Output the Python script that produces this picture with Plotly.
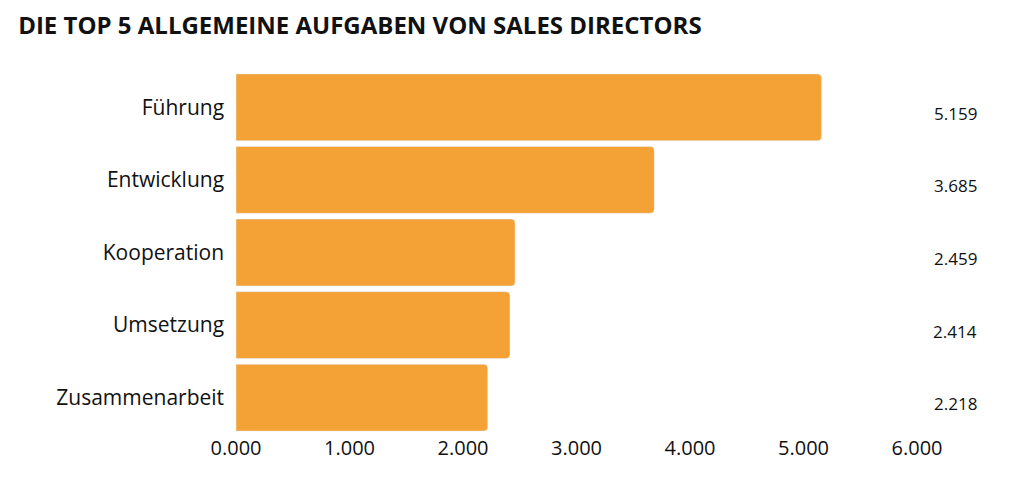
import plotly.graph_objects as go

categories = ["Führung", "Entwicklung", "Kooperation", "Umsetzung", "Zusammenarbeit"]
values = [5.159, 3.685, 2.459, 2.414, 2.218]
value_labels = ["5.159", "3.685", "2.459", "2.414", "2.218"]

fig = go.Figure(go.Bar(
    x=values, y=categories, orientation="h",
    marker=dict(color="#F4A235", cornerradius=4),
    width=0.92, hoverinfo="x+y"))

for c, lab in zip(categories, value_labels):
    fig.add_annotation(x=1.056, xref="paper", y=c, yref="y", text=lab,
                       showarrow=False, xanchor="center", yshift=-6,
                       font=dict(size=17, color="#111", family="Open Sans"))

fig.update_layout(
    width=1014, height=489,
    margin=dict(l=228, r=105, t=63, b=63),
    paper_bgcolor="white", plot_bgcolor="white",
    title=dict(text="<b>DIE TOP 5 ALLGEMEINE AUFGABEN VON SALES DIRECTORS</b>",
               x=0.01, xanchor="left", y=0.965, yanchor="middle",
               font=dict(size=24, color="#111", family="Open Sans")),
    xaxis=dict(range=[0, 6], tickvals=[0, 1, 2, 3, 4, 5, 6], tickformat=".3f",
               showgrid=False, zeroline=False, showline=False,
               tickfont=dict(size=20, color="#111", family="Open Sans")),
    yaxis=dict(autorange="reversed", showgrid=False, showline=False,
               ticksuffix="  ", tickfont=dict(size=21, color="#111", family="Open Sans")),
    showlegend=False, bargap=0.08,
)
fig.write_html("out.html")
